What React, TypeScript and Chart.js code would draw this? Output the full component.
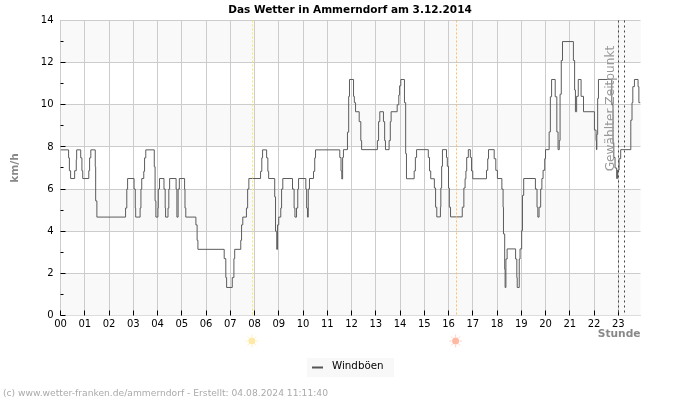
import React, { useEffect, useRef } from "react";
import { Chart, registerables } from "chart.js";

Chart.register(...registerables);

const chartTitle = "Das Wetter in Ammerndorf am 3.12.2014";
const seriesLabel = "Windböen";
const yTitle = "km/h";
const xTitle = "Stunde";
const footerText = "(c) www.wetter-franken.de/ammerndorf - Erstellt: 04.08.2024 11:11:40";
const markerText = "Gewählter Zeitpunkt";
const hourLabels = ["00","01","02","03","04","05","06","07","08","09","10","11","12","13","14","15","16","17","18","19","20","21","22","23"];

// minutes after midnight at which the reading changes, and the new reading
const nightMinutes = [0,20,22,25,35,39,40,50,53,55,70,72,75,86,87,90,161,164,166,182,185,186,197,199,201,206,208,211,232,234,236,241,242,245,256,259,260,266,268,270,286,288,291,294,307,308,310,335,338,340];
const nightGusts = [7.86,7.48,6.87,6.5,6.87,7.4,7.86,7.48,6.87,6.5,6.87,7.48,7.86,7.06,5.44,4.67,5.1,6.0,6.5,6.0,5.1,4.67,5.1,6.0,6.5,6.84,7.48,7.86,7.06,5.44,4.67,5.1,6.0,6.5,6.0,5.1,4.67,5.1,6.0,6.5,6.0,4.67,6.0,6.5,6.0,5.1,4.67,4.3,3.57,3.14];

const morningMinutes = [405,409,411,425,429,431,446,448,451,460,463,466,495,498,500,510,513,515,530,532,535,537,540,545,547,550,574,578,580,584,587,589,607,609,611,613,616,626,629,631];
const morningGusts = [2.7,1.8,1.33,1.8,2.7,3.14,3.57,4.3,4.67,5.1,6.0,6.5,6.84,7.48,7.86,7.48,6.84,6.5,5.63,4.0,3.14,4.3,4.67,5.1,6.0,6.5,6.0,5.1,4.67,5.1,6.0,6.5,6.0,5.1,4.67,6.0,6.5,6.84,7.48,7.86];

const noonMinutes = [691,694,696,698,700,710,713,715,725,727,730,739,743,745,784,787,790,799,802,804,813,816,818,833,837,839,842,851,854,856,875,878,881,910,913,916,925,928,931,940,941,943,945,955,957,960,962,965,994,998,1001,1003,1005,1009,1014,1017,1020];
const noonGusts = [7.5,6.86,6.48,7.5,7.87,8.7,10.4,11.2,10.4,10.1,9.67,9.2,8.3,7.87,8.3,9.2,9.67,9.2,8.3,7.87,8.3,9.2,9.67,10.0,10.46,10.9,11.2,10.1,7.68,6.49,6.86,7.5,7.87,7.5,6.86,6.49,6.05,5.14,4.68,5.14,6.05,7.08,7.87,7.5,7.08,6.05,5.14,4.68,5.14,6.05,6.49,6.86,7.5,7.87,7.5,6.86,6.49];

const eveningMinutes = [1054,1057,1059,1073,1077,1081,1092,1095,1096,1099,1100,1102,1105,1126,1129,1130,1135,1137,1141,1143,1146,1175,1179,1181,1184,1188,1191,1194,1198,1200,1209,1212,1215,1224,1228,1231,1234,1236,1239,1242,1269,1272,1274,1277,1281,1288,1294,1321,1325,1326,1327,1329,1331,1364,1367,1369,1372,1376,1378,1382,1386,1411,1414,1416,1420,1429,1431,1435];
const eveningGusts = [6.89,7.44,7.87,7.44,6.89,6.5,6.0,5.14,3.87,2.2,1.33,2.68,3.16,2.68,1.8,1.33,2.68,3.16,4.03,5.7,6.5,6.0,5.14,4.67,5.14,6.0,6.5,6.89,7.44,7.87,8.71,10.38,11.2,10.38,8.71,7.87,8.3,10.5,12.1,13,12.1,10.7,9.67,10.4,11.2,10.4,9.67,8.8,8.3,7.87,8.6,10.3,11.2,10.0,8.2,7.5,7.0,6.5,6.9,7.44,7.87,9.27,10.1,10.86,11.2,10.86,10.1,10.1];

const gustMinutes = [...nightMinutes, ...morningMinutes, ...noonMinutes, ...eveningMinutes];
const gustValues = [...nightGusts, ...morningGusts, ...noonGusts, ...eveningGusts];

const sunriseMinute = 476;
const sunsetMinute = 980;
const selectedMinutes = [1380, 1395];
const xMax = 1435;

const overlay = {
  id: "overlay",
  afterLayout(chart: any) {
    // centre the title on the whole picture, not on the padded chart box
    const t = chart.titleBlock;
    t.left = 0;
    t.right = 700;
    t.width = 700;
  },
  beforeDraw(chart: any) {
    const { ctx, chartArea: a, scales } = chart;
    ctx.save();
    for (let v = 0; v < 14; v += 4) {
      const top = scales.y.getPixelForValue(v + 2);
      const bot = scales.y.getPixelForValue(v);
      ctx.fillStyle = "#f9f9f9";
      ctx.fillRect(a.left, top, a.right - a.left, bot - top);
    }
    ctx.fillStyle = "#f9f9f9";
    ctx.fillRect(a.left, a.top, a.right - a.left, scales.y.getPixelForValue(12) - a.top);
    ctx.restore();
  },
  afterDatasetsDraw(chart: any) {
    const { ctx, chartArea: a, scales } = chart;
    const { x, y } = scales;
    ctx.save();
    ctx.lineWidth = 1;
    // inner tick marks
    ctx.strokeStyle = "#000";
    ctx.beginPath();
    for (let v = 0; v < 14; v++) {
      const py = Math.floor(y.getPixelForValue(v)) + 0.5;
      ctx.moveTo(a.left, py);
      ctx.lineTo(a.left + (v % 2 === 0 ? 5 : 3), py);
    }
    hourLabels.forEach((_, h) => {
      const px = Math.floor(x.getPixelForValue(h * 60)) + 0.5;
      ctx.moveTo(px, a.bottom);
      ctx.lineTo(px, a.bottom - 5);
    });
    ctx.stroke();
    // sunrise, sunset
    ctx.setLineDash([2, 2]);
    [[sunriseMinute, "#ffe95c"], [sunsetMinute, "#ffbf60"]].forEach(([m, c]: any) => {
      const px = Math.floor(x.getPixelForValue(m)) + 0.5;
      ctx.strokeStyle = c;
      ctx.beginPath();
      ctx.moveTo(px, a.top);
      ctx.lineTo(px, a.bottom);
      ctx.stroke();
    });
    // selected time
    ctx.strokeStyle = "#444";
    ctx.setLineDash([2, 3]);
    selectedMinutes.forEach((m) => {
      const px = Math.floor(x.getPixelForValue(m)) + 0.5;
      ctx.beginPath();
      ctx.moveTo(px, a.top);
      ctx.lineTo(px, a.bottom);
      ctx.stroke();
    });
    ctx.setLineDash([]);
    // sun icons
    [[sunriseMinute, "#ffe9a6", "#fff0c8"], [sunsetMinute, "#ffb9a3", "#ffd6c8"]].forEach(([m, c, r]: any) => {
      const cx = x.getPixelForValue(m) - 1;
      const cy = 341;
      ctx.fillStyle = c;
      ctx.beginPath();
      ctx.arc(cx, cy, 3.5, 0, Math.PI * 2);
      ctx.fill();
      ctx.strokeStyle = r;
      ctx.lineWidth = 1;
      ctx.beginPath();
      for (let i = 0; i < 8; i++) {
        const t = (i * Math.PI) / 4;
        ctx.moveTo(cx + Math.cos(t) * 4, cy + Math.sin(t) * 4);
        ctx.lineTo(cx + Math.cos(t) * 6.5, cy + Math.sin(t) * 6.5);
      }
      ctx.stroke();
    });
    // rotated marker label
    ctx.save();
    ctx.translate(611, 108.5);
    ctx.rotate(-Math.PI / 2);
    ctx.fillStyle = "#999";
    ctx.font = '12.2px "DejaVu Sans"';
    ctx.textAlign = "center";
    ctx.textBaseline = "middle";
    ctx.fillText(markerText, 0, 0);
    ctx.restore();
    // legend
    ctx.fillStyle = "#f8f8f8";
    ctx.fillRect(307, 358, 87, 19);
    ctx.strokeStyle = "#555";
    ctx.lineWidth = 2;
    ctx.beginPath();
    ctx.moveTo(312, 367.5);
    ctx.lineTo(323, 367.5);
    ctx.stroke();
    ctx.fillStyle = "#000";
    ctx.font = '10.3px "DejaVu Sans"';
    ctx.textBaseline = "middle";
    ctx.textAlign = "left";
    ctx.fillText(chart.data.datasets[0].label, 332, 366.5);
    // footer
    ctx.fillStyle = "#aaa";
    ctx.font = '9.16px "DejaVu Sans"';
    ctx.fillText(footerText, 3, 393.5);
    ctx.restore();
  },
};

export default function App() {
  const ref = useRef<HTMLCanvasElement>(null);
  useEffect(() => {
    const chart = new Chart(ref.current as HTMLCanvasElement, {
      type: "line",
      data: {
        datasets: [
          {
            label: seriesLabel,
            data: gustMinutes.map((m, i) => ({ x: m, y: gustValues[i] })),
            borderColor: "#5c5c5c",
            borderWidth: 1,
            pointRadius: 0,
            stepped: true,
          },
        ],
      },
      plugins: [overlay],
      options: {
        responsive: false,
        animation: false,
        layout: { padding: { left: 0, right: 59.5, top: 0, bottom: 0 } },
        plugins: {
          legend: { display: false },
          tooltip: { enabled: false },
          title: {
            display: true,
            text: chartTitle,
            color: "#000",
            font: { family: '"DejaVu Sans"', size: 10.5, weight: "bold", lineHeight: 1.15 },
            padding: { top: 4, bottom: 4.4 },
          },
        },
        scales: {
          x: {
            type: "linear",
            min: 0,
            max: xMax,
            afterBuildTicks(s: any) {
              s.ticks = hourLabels.map((_, h) => ({ value: h * 60 }));
            },
            afterFit(s: any) {
              s.height = 84.5;
            },
            grid: { color: "#ccc", lineWidth: 1, drawTicks: false },
            border: { color: "#ddd" },
            ticks: {
              autoSkip: false,
              maxRotation: 0,
              padding: 3,
              color: "#000",
              font: { family: '"DejaVu Sans"', size: 10 },
              callback: (v: any) => hourLabels[Math.round(v / 60)],
            },
            title: {
              display: true,
              text: xTitle,
              align: "end",
              color: "#888",
              font: { family: '"DejaVu Sans"', size: 10.67, weight: "bold", lineHeight: 1.2 },
              padding: { top: 0, bottom: 59.6 },
            },
          },
          y: {
            min: 0,
            max: 14,
            afterBuildTicks(s: any) {
              s.ticks = [0, 2, 4, 6, 8, 10, 12, 14].map((value) => ({ value }));
            },
            afterFit(s: any) {
              s.width = 60.5;
            },
            grid: { color: "#ccc", lineWidth: 1, drawTicks: false },
            border: { color: "#ccc" },
            ticks: {
              padding: 7,
              color: "#000",
              font: { family: '"DejaVu Sans"', size: 10 },
            },
            title: {
              display: true,
              text: yTitle,
              color: "#888",
              font: { family: '"DejaVu Sans"', size: 10.67, weight: "bold", lineHeight: 1.2 },
              padding: { top: 9, bottom: 0 },
            },
          },
        },
      },
    } as any);
    return () => chart.destroy();
  }, []);
  return (
    <div style={{ position: "absolute", left: 0, top: 0, width: 700, height: 400 }}>
      <canvas ref={ref} width={700} height={400} style={{ display: "block" }} />
    </div>
  );
}
